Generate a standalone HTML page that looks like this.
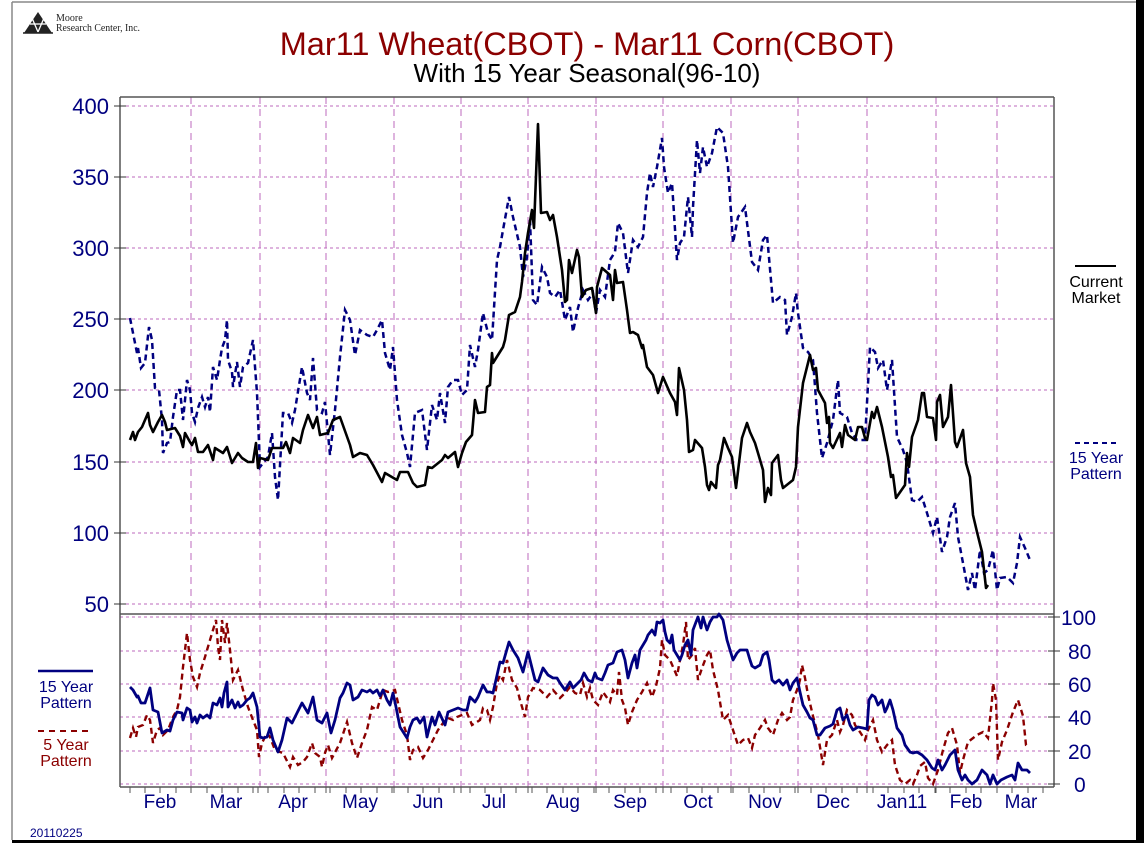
<!DOCTYPE html>
<html><head><meta charset="utf-8"><style>
html,body{margin:0;padding:0;background:#fff;}
svg{display:block;}
</style></head><body>
<svg width="1144" height="843" viewBox="0 0 1144 843" xmlns="http://www.w3.org/2000/svg" font-family="Liberation Sans, Arial, sans-serif">
<rect x="0" y="0" width="1144" height="843" fill="#fff"/>
<line x1="12" y1="2" x2="1136" y2="2" stroke="#888" stroke-width="1.5"/>
<line x1="12" y1="2" x2="12" y2="840" stroke="#888" stroke-width="1.5"/>
<rect x="1136" y="0" width="8" height="843" fill="#000"/>
<rect x="12" y="840" width="1132" height="3" fill="#000"/>
<g fill="#222"><polygon points="24,33 38,12 52,33"/></g>
<g stroke="#fff" stroke-width="1.3" fill="none">
<line x1="30" y1="24" x2="46" y2="24"/><line x1="38" y1="32" x2="32" y2="18"/><line x1="38" y1="32" x2="44" y2="18"/>
</g>
<line x1="23" y1="33" x2="53" y2="33" stroke="#222" stroke-width="1.5"/>
<text x="56" y="21" font-family="Liberation Serif, serif" font-size="10" fill="#222">Moore</text>
<text x="56" y="31" font-family="Liberation Serif, serif" font-size="10" fill="#222" textLength="84" lengthAdjust="spacingAndGlyphs">Research Center, Inc.</text>
<text x="587" y="55" text-anchor="middle" font-size="32.5" fill="#8b0000">Mar11 Wheat(CBOT) - Mar11 Corn(CBOT)</text>
<text x="587" y="82" text-anchor="middle" font-size="26" fill="#000">With 15 Year Seasonal(96-10)</text>
<g stroke="#bd6abd" stroke-width="1" stroke-dasharray="3,3">
<line x1="120" y1="106" x2="1054" y2="106"/><line x1="120" y1="177" x2="1054" y2="177"/><line x1="120" y1="248" x2="1054" y2="248"/><line x1="120" y1="319" x2="1054" y2="319"/><line x1="120" y1="390" x2="1054" y2="390"/><line x1="120" y1="462" x2="1054" y2="462"/><line x1="120" y1="533" x2="1054" y2="533"/><line x1="120" y1="604" x2="1054" y2="604"/>
<line x1="120" y1="617" x2="1054" y2="617"/><line x1="120" y1="651" x2="1054" y2="651"/><line x1="120" y1="684" x2="1054" y2="684"/><line x1="120" y1="717" x2="1054" y2="717"/><line x1="120" y1="751" x2="1054" y2="751"/><line x1="120" y1="784" x2="1054" y2="784"/>
</g>
<g stroke="#bd6abd" stroke-width="1" stroke-dasharray="7,5">
<line x1="191" y1="97" x2="191" y2="787"/><line x1="260" y1="97" x2="260" y2="787"/><line x1="326" y1="97" x2="326" y2="787"/><line x1="394" y1="97" x2="394" y2="787"/><line x1="461" y1="97" x2="461" y2="787"/><line x1="528" y1="97" x2="528" y2="787"/><line x1="596" y1="97" x2="596" y2="787"/><line x1="663" y1="97" x2="663" y2="787"/><line x1="731" y1="97" x2="731" y2="787"/><line x1="798" y1="97" x2="798" y2="787"/><line x1="867" y1="97" x2="867" y2="787"/><line x1="936" y1="97" x2="936" y2="787"/><line x1="997" y1="97" x2="997" y2="787"/>
</g>
<g stroke="#555" stroke-width="1.5" fill="none">
<line x1="120" y1="97" x2="1054" y2="97"/>
<line x1="120" y1="97" x2="120" y2="787"/>
<line x1="1054" y1="97" x2="1054" y2="787"/>
<line x1="120" y1="614" x2="1054" y2="614"/>
<line x1="120" y1="787" x2="1054" y2="787"/>
</g>
<g stroke="#333" stroke-width="1">
<line x1="114" y1="106" x2="126" y2="106"/><line x1="114" y1="177" x2="126" y2="177"/><line x1="114" y1="248" x2="126" y2="248"/><line x1="114" y1="319" x2="126" y2="319"/><line x1="114" y1="390" x2="126" y2="390"/><line x1="114" y1="462" x2="126" y2="462"/><line x1="114" y1="533" x2="126" y2="533"/><line x1="114" y1="604" x2="126" y2="604"/>
<line x1="1048" y1="617" x2="1060" y2="617"/><line x1="1048" y1="651" x2="1060" y2="651"/><line x1="1048" y1="684" x2="1060" y2="684"/><line x1="1048" y1="717" x2="1060" y2="717"/><line x1="1048" y1="751" x2="1060" y2="751"/><line x1="1048" y1="784" x2="1060" y2="784"/>
</g>
<g stroke="#555" stroke-width="1">
<path d="M130 787v6M145 787v6M160 787v6M176 787v6M191 787v6M207 787v6M222 787v6M238 787v6M253 787v6M258 787v6M268 787v6M284 787v6M299 787v6M315 787v6M326 787v6M330 787v6M346 787v6M361 787v6M377 787v6M392 787v6M394 787v6M408 787v6M423 787v6M439 787v6M454 787v6M461 787v6M470 787v6M485 787v6M501 787v6M516 787v6M528 787v6M532 787v6M547 787v6M563 787v6M578 787v6M594 787v6M596 787v6M609 787v6M625 787v6M640 787v6M656 787v6M663 787v6M671 787v6M687 787v6M702 787v6M718 787v6M731 787v6M733 787v6M749 787v6M764 787v6M780 787v6M795 787v6M798 787v6M811 787v6M826 787v6M842 787v6M857 787v6M867 787v6M873 787v6M888 787v6M904 787v6M919 787v6M935 787v6M936 787v6M950 787v6M966 787v6M981 787v6M997 787v6M1012 787v6M1028 787v6M1043 787v6"/>
</g>
<g font-size="22" fill="#000080" text-anchor="end">
<text x="109" y="114">400</text><text x="109" y="185">350</text><text x="109" y="256">300</text><text x="109" y="327">250</text><text x="109" y="398">200</text><text x="109" y="470">150</text><text x="109" y="541">100</text><text x="109" y="612">50</text>
</g>
<g font-size="21" fill="#000080">
<text x="1061" y="625">100</text><text x="1068" y="659">80</text><text x="1068" y="692">60</text><text x="1068" y="725">40</text><text x="1068" y="759">20</text><text x="1074" y="792">0</text>
</g>
<g font-size="19" fill="#000080" text-anchor="middle">
<text x="160" y="808">Feb</text><text x="226" y="808">Mar</text><text x="293" y="808">Apr</text><text x="360" y="808">May</text><text x="428" y="808">Jun</text><text x="494" y="808">Jul</text><text x="563" y="808">Aug</text><text x="630" y="808">Sep</text><text x="698" y="808">Oct</text><text x="765" y="808">Nov</text><text x="833" y="808">Dec</text><text x="902" y="808">Jan11</text><text x="966" y="808">Feb</text><text x="1021" y="808">Mar</text>
</g>
<text x="30" y="837" font-size="12" fill="#000080">20110225</text>
<line x1="38" y1="671" x2="93" y2="671" stroke="#000080" stroke-width="2.5"/>
<text x="66" y="692" font-size="16" fill="#000080" text-anchor="middle">15 Year</text>
<text x="66" y="708" font-size="16" fill="#000080" text-anchor="middle">Pattern</text>
<line x1="38" y1="731" x2="93" y2="731" stroke="#8b0000" stroke-width="2" stroke-dasharray="6,5"/>
<text x="66" y="750" font-size="16" fill="#8b0000" text-anchor="middle">5 Year</text>
<text x="66" y="766" font-size="16" fill="#8b0000" text-anchor="middle">Pattern</text>
<line x1="1075" y1="266" x2="1116" y2="266" stroke="#000" stroke-width="2"/>
<text x="1096" y="287" font-size="16" fill="#000" text-anchor="middle">Current</text>
<text x="1096" y="303" font-size="16" fill="#000" text-anchor="middle">Market</text>
<line x1="1075" y1="443" x2="1116" y2="443" stroke="#000080" stroke-width="2" stroke-dasharray="5,4"/>
<text x="1096" y="463" font-size="16" fill="#000080" text-anchor="middle">15 Year</text>
<text x="1096" y="479" font-size="16" fill="#000080" text-anchor="middle">Pattern</text>
<polyline fill="none" stroke="#000080" stroke-width="2.5" stroke-dasharray="6,4" points="130,318 133,333 137,353 138,348 141,368 145,363 149,327 152,340 155,388 159,390 162,420 163,453 167,443 170,442 173,417 177,390 180,390 183,420 187,380 190,390 192,413 195,422 198,408 202,397 205,407 208,397 210,412 213,367 217,380 220,360 222,348 225,340 227,320 228,360 232,372 233,387 237,362 240,387 243,367 248,363 253,340 257,393 260,467 263,463 268,457 272,433 275,477 278,500 283,413 288,413 292,423 295,410 302,367 307,393 310,400 313,358 317,410 322,413 325,402 330,455 335,410 340,357 345,310 350,320 355,355 360,330 367,335 373,337 377,330 382,320 385,353 390,370 393,347 397,400 402,435 407,453 410,467 415,413 422,410 427,450 432,405 437,420 440,393 445,423 448,387 453,380 458,380 462,395 467,390 470,345 475,367 478,350 483,313 488,333 492,340 497,260 500,247 503,230 509,197 513,217 520,247 523,277 527,257 530,220 533,300 537,305 542,267 547,277 550,293 555,297 560,290 565,320 570,307 573,332 578,308 583,290 588,300 593,293 596,313 600,290 605,297 610,260 615,252 618,223 623,233 628,273 633,240 638,247 643,237 647,193 650,173 653,187 657,167 662,138 664,167 668,193 672,183 677,260 680,243 684,237 688,197 692,237 693,207 697,140 700,173 703,147 707,167 712,153 717,127 723,133 728,167 733,243 738,217 745,207 752,262 758,270 763,240 767,235 773,303 780,297 785,300 787,335 792,317 796,293 798,313 803,348 808,352 813,360 817,413 822,458 827,443 833,420 838,380 840,413 847,417 852,433 857,440 865,440 870,347 875,352 878,368 883,360 887,390 892,360 897,437 903,450 907,463 912,500 917,502 922,497 927,513 933,533 937,517 942,552 947,537 950,517 955,503 958,537 963,563 968,590 972,573 975,590 980,550 984,573 988,570 993,550 997,590 1000,578 1007,577 1013,583 1017,563 1020,537 1025,548 1030,560"/>
<polyline fill="none" stroke="#000" stroke-width="2.6" stroke-linejoin="round" points="130,440 133,432 135,440 138,432 142,427 148,413 150,425 153,432 158,422 162,415 165,422 167,430 175,428 180,436 183,447 185,433 190,442 192,445 195,438 198,452 203,452 208,445 213,460 215,448 223,453 227,447 232,463 238,453 242,458 248,462 253,462 256,443 258,468 260,458 268,460 272,448 283,448 286,442 290,453 293,438 300,443 303,430 308,415 313,428 317,417 320,435 328,433 333,420 340,417 350,445 353,457 360,453 367,455 373,465 382,482 385,473 397,480 400,472 408,472 413,483 417,487 425,485 428,467 432,468 442,460 445,455 448,458 455,452 458,467 462,453 466,442 472,435 475,400 478,413 485,412 487,387 490,385 492,353 493,363 503,347 505,340 509,315 515,312 520,297 522,282 525,253 528,233 532,210 534,228 538,124 541,213 547,212 550,220 553,215 557,237 562,270 565,302 567,300 569,260 572,273 577,250 579,257 582,297 586,290 592,288 596,313 597,287 602,268 610,275 613,300 615,270 617,283 623,282 627,310 630,333 633,332 638,335 642,348 643,345 647,367 653,375 658,393 663,377 670,393 675,402 677,415 679,368 684,390 687,420 689,452 693,450 695,440 702,448 705,467 707,485 709,490 711,482 716,488 718,465 720,460 724,438 728,448 732,457 736,488 742,438 747,423 750,432 755,443 758,453 763,470 765,502 768,488 771,495 772,463 778,455 781,480 783,488 793,480 796,467 798,427 803,383 810,355 813,370 816,368 818,390 825,403 827,423 829,417 830,443 833,448 840,433 842,447 845,425 848,435 855,440 858,427 862,427 865,438 867,440 872,412 874,418 877,407 882,427 888,457 891,477 893,475 896,498 905,485 907,453 909,467 912,437 918,420 922,393 924,393 927,417 933,418 936,440 937,402 940,395 943,427 948,417 951,385 955,442 957,447 963,430 966,463 970,477 973,515 977,532 982,552 986,588 988,585"/>
<polyline fill="none" stroke="#8b0000" stroke-width="2.4" stroke-dasharray="6,4" points="130,738 133,728 136,737 138,727 143,725 147,715 150,720 153,743 157,730 160,728 163,735 168,730 173,717 177,710 180,697 183,667 187,633 190,660 193,677 197,687 200,673 205,657 210,640 213,630 216,620 218,647 220,660 222,620 225,643 227,623 230,650 233,680 238,670 243,690 248,707 253,720 257,730 259,757 262,743 267,733 270,737 275,750 280,752 283,753 290,767 293,757 298,765 303,762 307,757 312,743 315,753 320,757 322,767 325,753 328,745 332,758 340,743 347,722 352,743 357,758 362,743 367,730 372,707 377,710 383,690 388,692 395,690 402,720 407,735 410,760 413,750 418,747 423,758 428,750 433,740 438,730 443,723 448,718 453,720 457,717 462,715 467,713 472,725 477,722 480,720 483,708 487,710 490,720 493,707 497,683 500,675 503,680 507,660 512,680 517,688 520,700 525,717 528,697 533,688 540,690 547,697 553,690 560,698 565,693 570,687 575,693 580,695 583,683 587,697 590,688 593,700 598,705 603,692 610,702 613,690 617,695 619,672 622,700 625,708 628,725 632,712 637,700 642,692 647,683 652,697 656,686 660,668 662,640 665,655 670,660 677,676 680,660 683,645 686,622 688,660 692,655 695,648 698,680 702,668 707,655 710,650 713,670 718,690 723,720 728,715 733,730 738,745 743,740 748,738 752,748 755,735 760,728 765,720 768,728 773,735 778,720 782,713 787,720 790,717 793,700 797,690 800,680 802,665 805,678 808,695 813,716 818,735 823,765 827,740 832,735 837,720 840,732 843,725 847,710 852,715 855,725 860,732 865,740 868,730 873,720 877,740 882,752 887,745 892,740 895,765 900,780 905,784 910,780 913,784 917,775 920,766 925,762 928,778 933,784 938,770 943,750 948,733 952,728 957,745 960,773 963,760 968,742 977,735 983,732 988,738 992,700 993,683 996,700 998,760 1002,742 1007,730 1013,712 1018,700 1023,716 1026,745 1029,747"/>
<polyline fill="none" stroke="#000080" stroke-width="2.8" stroke-linejoin="round" points="130,687 133,690 137,697 138,696 141,703 145,703 150,688 153,710 158,712 162,733 167,730 170,731 173,720 177,712 182,713 183,720 187,708 190,710 192,722 195,717 197,723 200,715 203,718 207,715 210,718 213,703 217,705 220,698 222,707 224,693 227,682 228,707 232,700 235,708 238,702 240,707 243,705 247,700 250,698 253,693 257,707 260,737 263,738 267,737 270,728 273,740 278,752 282,740 287,718 292,723 297,713 302,703 305,708 308,713 313,697 317,720 322,723 327,713 331,733 335,720 340,698 343,693 347,683 350,685 353,700 358,697 362,690 367,692 370,690 373,693 377,690 380,696 383,690 387,700 390,705 393,693 396,707 400,727 407,738 410,727 413,720 417,718 420,723 424,717 427,737 432,717 435,725 439,712 445,725 448,712 453,710 458,708 463,710 467,710 470,697 475,702 478,697 483,685 487,692 490,692 493,693 500,662 503,663 509,642 513,650 518,658 523,672 528,652 533,672 535,680 538,682 543,668 548,675 553,678 557,678 560,683 565,690 570,682 573,688 578,683 581,680 584,673 588,680 592,682 595,673 597,678 602,680 605,673 608,665 613,663 617,652 622,650 625,660 628,678 632,663 635,655 637,668 640,650 643,645 646,640 648,635 652,630 655,635 657,622 660,623 663,620 665,632 667,640 670,643 672,635 674,650 677,655 680,660 682,655 685,645 688,640 691,655 693,630 696,622 698,617 701,628 703,617 707,630 710,622 713,617 717,617 719,614 723,620 727,640 730,650 733,660 737,653 740,650 747,650 750,660 752,666 755,668 760,665 763,655 767,652 769,660 772,680 775,683 779,680 783,685 787,680 790,690 793,683 797,678 800,692 803,705 807,712 810,718 813,720 817,735 820,735 825,728 830,726 833,724 837,710 840,708 843,720 847,715 850,725 853,730 858,727 863,728 867,729 869,700 872,695 875,697 878,705 882,700 885,712 887,708 890,700 893,710 897,728 902,735 905,745 910,752 913,753 917,752 922,755 927,760 932,768 935,770 938,760 942,770 945,765 950,755 955,750 958,770 962,780 965,775 968,780 972,784 977,780 982,770 987,775 990,784 993,775 997,784 1001,780 1007,777 1012,775 1015,780 1018,763 1022,770 1027,770 1030,773"/>
</svg>
</body></html>
